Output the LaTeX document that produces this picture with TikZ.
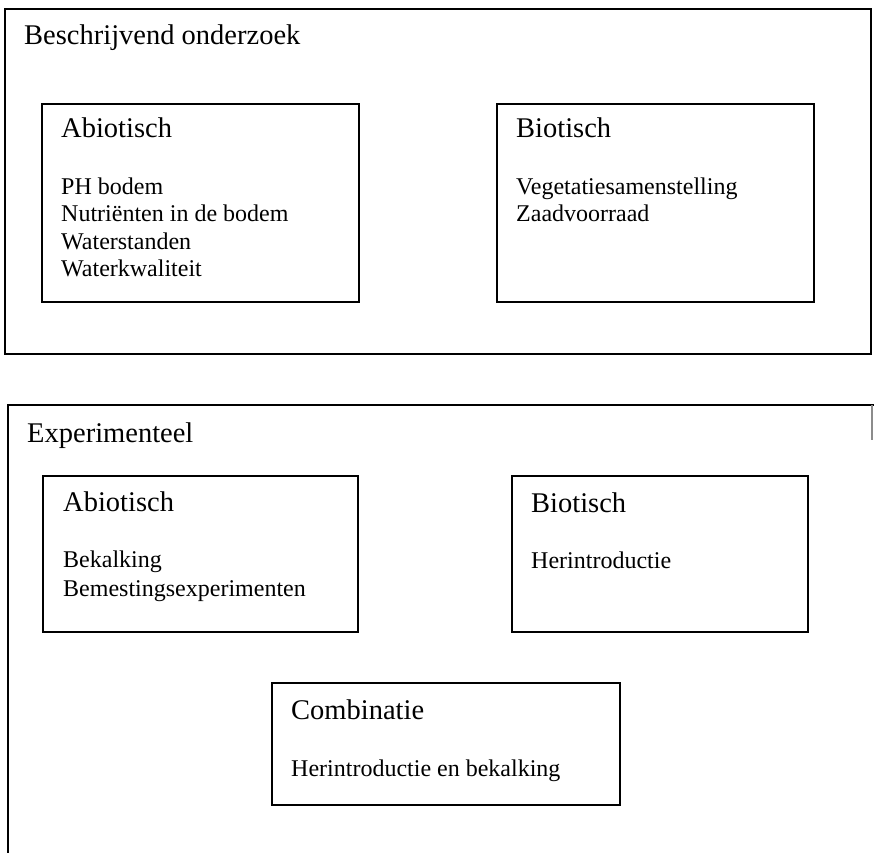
\documentclass[tikz,border=0pt]{standalone}
\usepackage{fontspec}
\setmainfont{Liberation Serif}
\begin{document}
\begin{tikzpicture}[x=1pt,y=-1pt,
  box/.style={draw=black, line width=1.6pt, inner sep=0pt, outer sep=0pt, anchor=north west},
  ttl/.style={anchor=base west, inner sep=0pt, font=\fontsize{28.5}{30}\selectfont},
  itm/.style={anchor=base west, inner sep=0pt, font=\fontsize{24}{26}\selectfont}]
\useasboundingbox (0,0) rectangle (874,853);
% top outer box
\node[box, minimum width=866pt, minimum height=345pt] (outer1) at (5,9) {};
\node[ttl] (t1) at (24,45) {Beschrijvend onderzoek};
% top abiotisch
\node[box, minimum width=317pt, minimum height=198pt] (ab1) at (42,104) {};
\node[ttl] (ab1t) at (61,138) {Abiotisch};
\node[itm] (ab1a) at (61,194) {PH bodem};
\node[itm] (ab1b) at (61,221) {Nutriënten in de bodem};
\node[itm] (ab1c) at (61,249) {Waterstanden};
\node[itm] (ab1d) at (61,276) {Waterkwaliteit};
% top biotisch
\node[box, minimum width=317pt, minimum height=198pt] (bi1) at (497,104) {};
\node[ttl] (bi1t) at (516,138) {Biotisch};
\node[itm] (bi1a) at (516,194) {Vegetatiesamenstelling};
\node[itm] (bi1b) at (516,221) {Zaadvoorraad};
% bottom outer (cropped)
\coordinate (o2tl) at (8,405);
\coordinate (o2tr) at (874,405);
\coordinate (o2bl) at (8,853);
\draw[line width=1.6pt] (o2tr) -- (o2tl) -- (o2bl);
\draw[line width=1.2pt, black!45] (872,405) -- (872,440);
\node[ttl] (t2) at (27,442) {Experimenteel};
% bottom abiotisch
\node[box, minimum width=315pt, minimum height=156pt] (ab2) at (43,476) {};
\node[ttl] (ab2t) at (63,511) {Abiotisch};
\node[itm] (ab2a) at (63,567) {Bekalking};
\node[itm] (ab2b) at (63,596) {Bemestingsexperimenten};
% bottom biotisch
\node[box, minimum width=296pt, minimum height=156pt] (bi2) at (512,476) {};
\node[ttl] (bi2t) at (531,512) {Biotisch};
\node[itm] (bi2a) at (531,568) {Herintroductie};
% combinatie
\node[box, minimum width=348pt, minimum height=122pt] (co) at (272,683) {};
\node[ttl] (cot) at (291,719) {Combinatie};
\node[itm] (coa) at (291,776) {Herintroductie en bekalking};
\end{tikzpicture}
\end{document}
